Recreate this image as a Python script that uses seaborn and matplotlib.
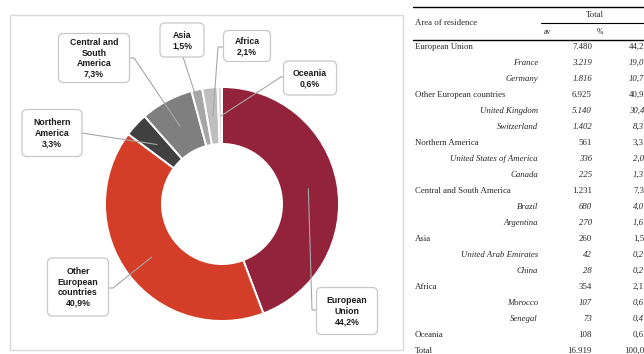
import matplotlib
matplotlib.use("Agg")
import matplotlib.pyplot as plt
import seaborn as sns
import numpy as np
from matplotlib.patches import FancyBboxPatch, Rectangle

# ---- data -------------------------------------------------------------
regions = ["European\nUnion", "Other\nEuropean\ncountries", "Northern\nAmerica",
           "Central and\nSouth\nAmerica", "Asia", "Africa", "Oceania"]
region_pct = [44.2, 40.9, 3.3, 7.3, 1.5, 2.1, 0.6]
region_colors = ["#93223B", "#D43D27", "#404040", "#7F7F7F", "#A6A6A6", "#BFBFBF", "#D9D9D9"]

table_areas = ["European Union", "France", "Germany", "Other European countries",
               "United Kingdom", "Switzerland", "Northern America",
               "United States of America", "Canada", "Central and South America",
               "Brazil", "Argentina", "Asia", "United Arab Emirates", "China",
               "Africa", "Morocco", "Senegal", "Oceania", "Total"]
table_is_country = [False, True, True, False, True, True, False, True, True, False,
                    True, True, False, True, True, False, True, True, False, False]
table_av = [7480, 3219, 1816, 6925, 5140, 1402, 561, 336, 225, 1231,
            680, 270, 260, 42, 28, 354, 107, 73, 108, 16919]
table_pct = [44.2, 19.0, 10.7, 40.9, 30.4, 8.3, 3.3, 2.0, 1.3, 7.3,
             4.0, 1.6, 1.5, 0.2, 0.2, 2.1, 0.6, 0.4, 0.6, 100.0]


def fmt_int(v):
    return f"{v:,}".replace(",", ".")


def fmt_pct(v, suffix=""):
    return f"{v:.1f}".replace(".", ",") + suffix


# ---- figure layout (pixel units) -------------------------------------
W, H = 644, 354
CX, CY, R = 222, 204, 117

sns.set_theme(style="white")
plt.rcParams["font.family"] = ["Liberation Sans", "DejaVu Sans"]

fig = plt.figure(figsize=(W / 100, H / 100), dpi=100)
fig.patch.set_facecolor("white")

# donut
pax = fig.add_axes([(CX - R) / W, (H - CY - R) / H, 2 * R / W, 2 * R / H])
wedges, _ = pax.pie(region_pct, colors=region_colors, startangle=90, counterclock=False,
                    radius=1.0, wedgeprops=dict(width=0.487, edgecolor="white", linewidth=1.4))
pax.set_xlim(-1, 1)
pax.set_ylim(-1, 1)
pax.axis("off")

# overlay in pixel coordinates for frame, callouts and table
ax = fig.add_axes([0, 0, 1, 1])
ax.set_xlim(0, W)
ax.set_ylim(H, 0)
ax.axis("off")
ax.patch.set_alpha(0)

ax.add_patch(Rectangle((10, 15), 393, 335, fill=False, edgecolor="#DADADA", linewidth=1.0))

# callout boxes: centre, size, leader path (box side -> elbow)
callouts = [
    ((347, 311), (61, 47), [(317, 310), (312, 310)]),
    ((78, 287), (61, 58), [(109, 288), (113, 288)]),
    ((52, 133), (60, 47), [(82, 133)]),
    ((94, 58), (71, 49), [(129, 58), (134, 58)]),
    ((182, 40), (44, 34), [(183, 57)]),
    ((247, 46), (47, 31), [(223, 47), (218, 47)]),
    ((310, 78), (53, 34), [(283, 77), (281, 77)]),
]

for w, pct, name, (centre, size, path) in zip(wedges, region_pct, regions, callouts):
    mid = np.deg2rad((w.theta1 + w.theta2) / 2)
    tip = (CX + 0.75 * R * np.cos(mid), CY - 0.75 * R * np.sin(mid))
    pts = path + [tip]
    ax.plot([p[0] for p in pts], [p[1] for p in pts], color="#A6A6A6", linewidth=0.8,
            solid_capstyle="butt", zorder=3)
    bw, bh = size
    ax.add_patch(FancyBboxPatch((centre[0] - bw / 2, centre[1] - bh / 2), bw, bh,
                                boxstyle="round,pad=0,rounding_size=5",
                                facecolor="white", edgecolor="#C8C8C8", linewidth=0.9,
                                zorder=4))
    ax.text(centre[0], centre[1] + 0.5, f"{name}\n{fmt_pct(pct, '%')}", ha="center",
            va="center", multialignment="center", fontsize=6.3, fontweight="bold",
            color="#1A1A1A", linespacing=1.22, zorder=5)

# ---- table ------------------------------------------------------------
serif = ["Liberation Serif", "DejaVu Serif"]
FS = 6.3
ax.plot([413, W], [7, 7], color="black", linewidth=1.0)
ax.plot([541, W], [23, 23], color="black", linewidth=0.8)
ax.plot([413, W], [39.5, 39.5], color="black", linewidth=1.0)
ax.text(415, 23, "Area of residence", ha="left", va="center", fontsize=FS, family=serif)
ax.text(595, 15, "Total", ha="center", va="center", fontsize=FS, family=serif)
ax.text(547, 32, "av", ha="center", va="center", fontsize=5.5, family=serif)
ax.text(600, 32, "%", ha="center", va="center", fontsize=5.5, family=serif)

for i, (area, sub, av, pc) in enumerate(zip(table_areas, table_is_country, table_av, table_pct)):
    y = 47 + i * 16.0
    style = "italic" if sub else "normal"
    if sub:
        ax.text(538, y, area, ha="right", va="center", fontsize=FS, family=serif, style=style)
    else:
        ax.text(415, y, area, ha="left", va="center", fontsize=FS, family=serif)
    ax.text(592, y, fmt_int(av), ha="right", va="center", fontsize=FS, family=serif, style=style)
    ax.text(644, y, fmt_pct(pc), ha="right", va="center", fontsize=FS, family=serif, style=style)

fig.savefig("out.png", dpi=100)
